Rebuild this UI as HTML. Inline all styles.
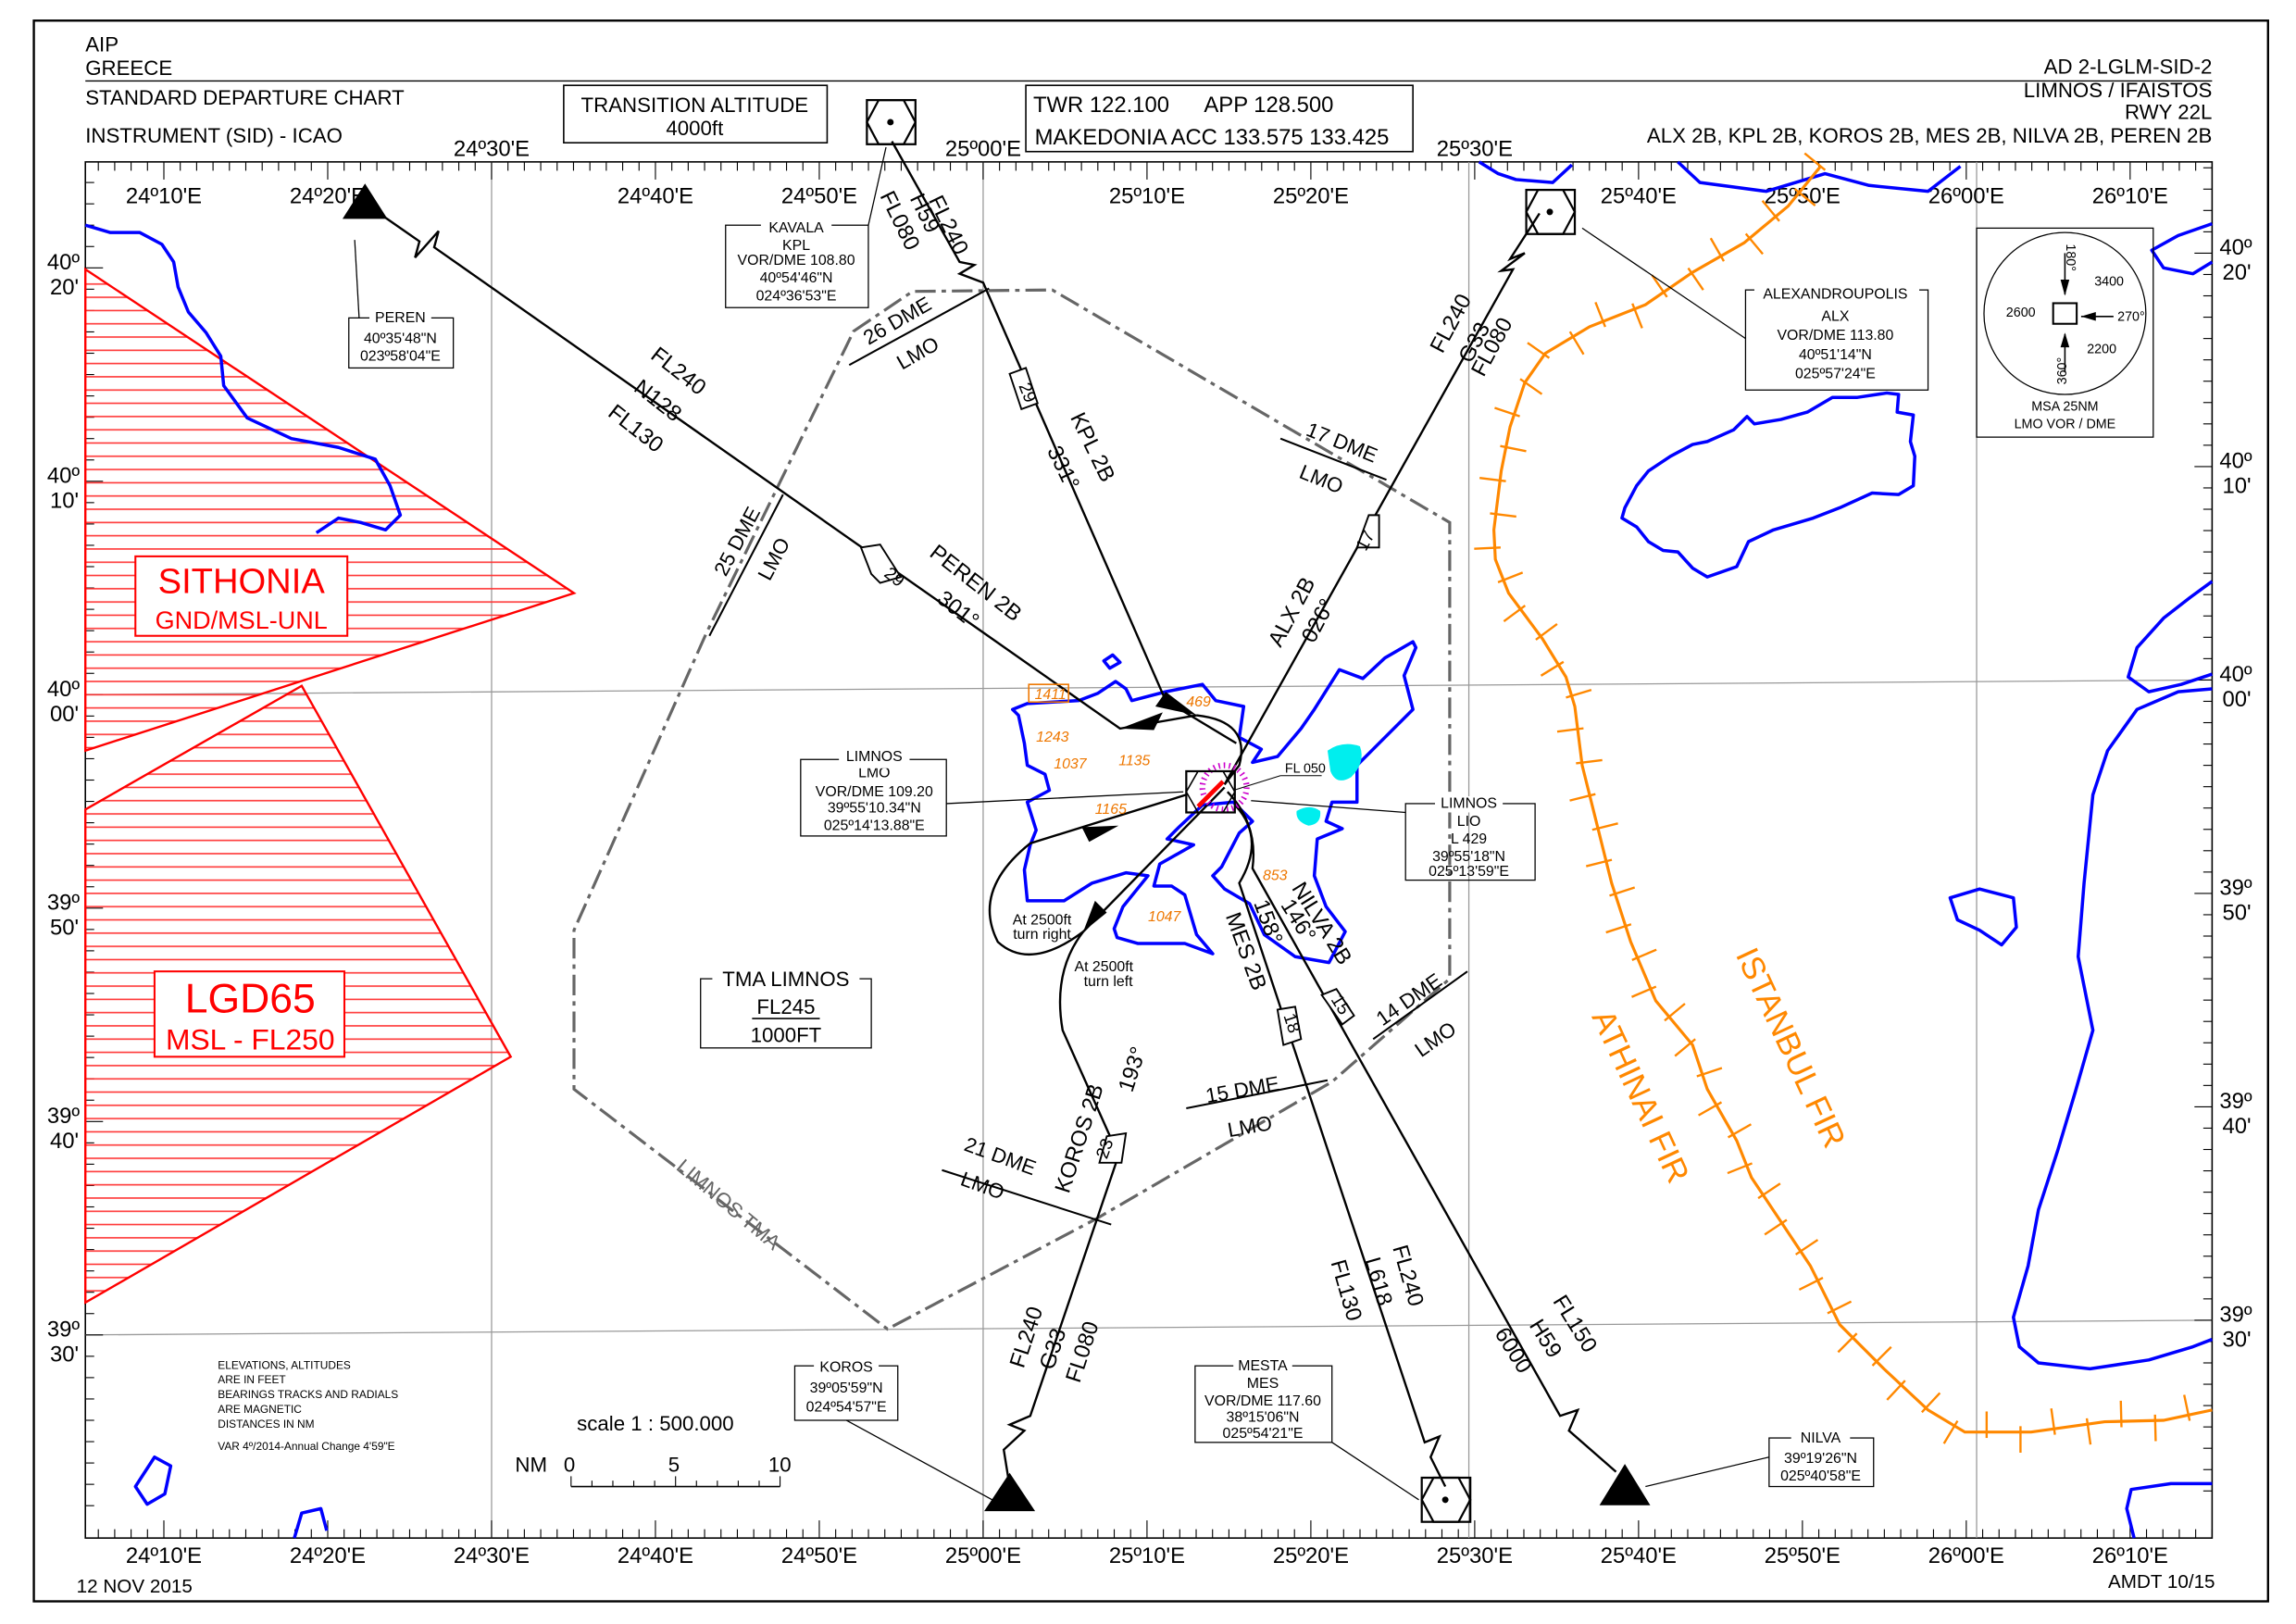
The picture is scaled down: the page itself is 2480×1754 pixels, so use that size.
<!DOCTYPE html>
<html><head><meta charset="utf-8">
<style>
html,body{margin:0;padding:0;background:#fff;}
svg{display:block;}
text{font-family:"Liberation Sans",sans-serif;fill:#000;}
</style></head>
<body>
<svg id="map" width="2480" height="1754" viewBox="0 0 1560 1103.4" preserveAspectRatio="none" xmlns="http://www.w3.org/2000/svg">
<defs>
<pattern id="hatch" patternUnits="userSpaceOnUse" width="10" height="9"><line x1="0" y1="4" x2="10" y2="4" stroke="#f33" stroke-width="1"/></pattern>
</defs>
<rect x="23" y="14" width="1518" height="1074" fill="none" stroke="#000" stroke-width="1.5"/>

<!-- header -->
<g font-size="14">
<text x="58" y="35">AIP</text>
<text x="58" y="51">GREECE</text>
<line x1="58" y1="55" x2="1503" y2="55" stroke="#000" stroke-width="0.8"/>
<text x="58" y="71">STANDARD DEPARTURE CHART</text>
<text x="58" y="97">INSTRUMENT (SID) - ICAO</text>
<text x="1503" y="50" text-anchor="end">AD 2-LGLM-SID-2</text>
<text x="1503" y="66" text-anchor="end">LIMNOS / IFAISTOS</text>
<text x="1503" y="81" text-anchor="end">RWY 22L</text>
<text x="1503" y="97" text-anchor="end">ALX 2B, KPL 2B, KOROS 2B, MES 2B, NILVA 2B, PEREN 2B</text>
</g>
<g>
<rect x="383" y="58" width="179" height="39" fill="none" stroke="#000"/>
<text x="472" y="76" font-size="14" text-anchor="middle">TRANSITION ALTITUDE</text>
<text x="472" y="92" font-size="14" text-anchor="middle">4000ft</text>
</g>
<g>
<rect x="697" y="58" width="263" height="45" fill="none" stroke="#000"/>
<text x="702" y="76" font-size="15">TWR 122.100</text>
<text x="818" y="76" font-size="15">APP 128.500</text>
<text x="703" y="98" font-size="15">MAKEDONIA ACC  133.575 133.425</text>
</g>

<!-- map frame -->
<rect x="58" y="110" width="1445" height="935" fill="none" stroke="#000" stroke-width="1"/>
<g id="grid" stroke="#999" stroke-width="0.8">
<line x1="334" y1="110" x2="334" y2="1045"/><line x1="668" y1="110" x2="668" y2="1045"/>
<line x1="998" y1="110" x2="998" y2="1045"/><line x1="1343" y1="110" x2="1343" y2="1045"/>
<line x1="58" y1="472" x2="1503" y2="462"/><line x1="58" y1="907" x2="1503" y2="897"/>
</g>
<g id="ticks" stroke="#000" stroke-width="0.7"></g>
<g id="lonlabels" font-size="15"></g>
<g id="latlabels" font-size="15"></g>

<!-- restricted areas -->
<g>
<polygon points="58,183 390,403 58,510" fill="url(#hatch)" stroke="#f00" stroke-width="1.5"/>
<rect x="92" y="378" width="144" height="54" fill="#fff" stroke="#f00" stroke-width="1.3"/>
<text x="164" y="403" font-size="24" text-anchor="middle" style="fill:#f00">SITHONIA</text>
<text x="164" y="427" font-size="17" text-anchor="middle" style="fill:#f00">GND/MSL-UNL</text>
</g>
<g>
<polygon points="58,550 205,466 347,718 58,885" fill="url(#hatch)" stroke="#f00" stroke-width="1.5"/>
<rect x="105" y="660" width="129" height="58" fill="#fff" stroke="#f00" stroke-width="1.3"/>
<text x="170" y="688" font-size="28" text-anchor="middle" style="fill:#f00">LGD65</text>
<text x="170" y="713" font-size="20" text-anchor="middle" style="fill:#f00">MSL - FL250</text>
</g>

<!-- coastlines -->
<g fill="none" stroke="#00f" stroke-width="2.2" stroke-linejoin="round">
<polyline points="58,153 75,158 95,158 110,166 118,178 121,195 128,212 140,226 150,242 152,262 168,284 198,298 230,304 255,312 265,330 272,350 262,360 245,355 230,352 215,362"/>
<polyline points="1005,110 1018,118 1030,122 1055,124 1068,112"/>
<polyline points="1140,110 1155,124 1200,130 1240,118 1270,126 1310,130 1332,113"/>
<polyline points="1503,152 1480,160 1462,170 1470,182 1490,186 1503,178"/>
<polygon points="1104,345 1112,330 1120,320 1135,310 1150,302 1160,300 1178,292 1187,283 1192,288 1210,285 1228,280 1245,270 1262,270 1282,267 1290,268 1289,280 1300,282 1298,300 1301,310 1300,330 1290,336 1272,335 1250,345 1232,352 1205,360 1188,368 1180,385 1160,392 1150,386 1140,375 1130,374 1120,368 1112,358 1102,352"/>
<polyline points="1503,395 1488,406 1470,420 1452,440 1446,460 1460,470 1482,465 1503,458"/>
<polyline points="1503,468 1480,470 1452,482 1432,510 1422,540 1416,600 1412,650 1422,700 1410,742 1398,782 1385,822 1378,860 1368,895 1372,915 1385,926 1420,930 1460,924 1490,915 1503,910"/>
<polygon points="1325,610 1345,604 1368,610 1370,630 1360,642 1345,632 1330,625"/>
<polyline points="1503,1008 1475,1008 1448,1012 1445,1025 1450,1045"/>
<polygon points="92,1010 105,990 116,996 112,1015 100,1022"/>
<polyline points="200,1045 205,1028 218,1025 222,1040"/>
<polygon points="688,482 698,478 733,476 746,471 758,463 765,468 769,476 792,470 817,465 826,476 845,480 842,501 857,509 851,518 868,514 884,495 893,482 910,455 926,461 941,447 960,436 962,440 954,459 960,482 935,507 922,520 922,545 905,545 901,558 912,563 895,570 893,595 901,616 914,633 903,654 880,650 859,635 849,614 832,604 824,595 830,589 842,566 851,558 838,545 817,547 801,562 793,570 811,574 788,587 784,602 796,602 805,608 813,635 824,648 805,641 773,641 759,637 757,631 763,616 780,595 765,593 742,600 723,612 698,612 696,591 700,574 704,564 698,545 713,537 710,526 698,520 696,505 692,486"/>
<polygon points="750,449 756,445 761,450 754,454"/>
</g>
<g fill="#0ee" stroke="none">
<path d="M902,510 Q912,503 924,507 Q928,518 918,528 Q908,534 904,524 Z"/>
<path d="M881,551 Q890,546 897,551 Q898,560 889,561 Q880,558 881,551 Z"/>
</g>

<!-- FIR boundary -->
<g id="fir"></g>
<text x="1210" y="715" font-size="22" transform="rotate(65 1210 715)" text-anchor="middle" style="fill:#f80">ISTANBUL FIR</text>
<text x="1108" y="748" font-size="22" transform="rotate(65 1108 748)" text-anchor="middle" style="fill:#f80">ATHINAI FIR</text>

<!-- TMA -->
<polygon points="580,225 620,198 715,197 985,355 985,665 905,735 745,828 603,903 390,740 390,632 480,430" fill="none" stroke="#666" stroke-width="2" stroke-dasharray="14,4,3,4"/>
<text x="492" y="822" font-size="14" transform="rotate(40 492 822)" text-anchor="middle" style="fill:#666">LIMNOS TMA</text>

<!-- DME arcs -->
<g stroke="#000" stroke-width="1.3" font-size="14">
<line x1="577" y1="248" x2="672" y2="196"/>
<text x="612" y="222" transform="rotate(-30 612 222)" stroke="none" text-anchor="middle">26 DME</text>
<text x="626" y="244" transform="rotate(-30 626 244)" stroke="none" text-anchor="middle">LMO</text>
<line x1="870" y1="298" x2="942" y2="326"/>
<text x="910" y="305" transform="rotate(22 910 305)" stroke="none" text-anchor="middle">17 DME</text>
<text x="896" y="330" transform="rotate(22 896 330)" stroke="none" text-anchor="middle">LMO</text>
<line x1="482" y1="432" x2="532" y2="336"/>
<text x="505" y="370" transform="rotate(-62 505 370)" stroke="none" text-anchor="middle">25 DME</text>
<text x="530" y="382" transform="rotate(-62 530 382)" stroke="none" text-anchor="middle">LMO</text>
<line x1="933" y1="706" x2="997" y2="660"/>
<text x="960" y="683" transform="rotate(-35 960 683)" stroke="none" text-anchor="middle">14 DME</text>
<text x="978" y="710" transform="rotate(-35 978 710)" stroke="none" text-anchor="middle">LMO</text>
<line x1="806" y1="753" x2="902" y2="734"/>
<text x="845" y="745" transform="rotate(-10 845 745)" stroke="none" text-anchor="middle">15 DME</text>
<text x="850" y="770" transform="rotate(-10 850 770)" stroke="none" text-anchor="middle">LMO</text>
<line x1="640" y1="795" x2="755" y2="832"/>
<text x="678" y="790" transform="rotate(20 678 790)" stroke="none" text-anchor="middle">21 DME</text>
<text x="666" y="810" transform="rotate(20 666 810)" stroke="none" text-anchor="middle">LMO</text>
</g>

<!-- routes -->
<g fill="none" stroke="#000" stroke-width="1.5">
<polyline points="262,148 285,164 282,175 298,157 295,168 761,495 813,486"/>
<polyline points="606,96 652,178 662,180 652,186 668,192 792,476 840,505"/>
<path d="M813,486 Q850,490 842,520 L832,533"/>
<polyline points="832,533 1028,183 1020,184 1036,172 1026,176 1046,145"/>
<polyline points="832,535 736,633"/>
<path d="M736,633 Q715,660 722,700 L760,785 L700,962 L686,968 L696,972 L682,985 L686,1010"/>
<path d="M736,633 Q700,660 678,640 Q660,605 700,573 L806,540"/>
<path d="M840,548 Q860,570 842,600 L968,980 L978,976 L972,990 L982,1010"/>
<path d="M834,538 Q855,560 851,590 L1060,962 L1072,958 L1066,972 L1098,1000"/>
</g>
<g fill="#000">
<polygon points="761,495 790,484 784,496"/>
<polygon points="813,486 785,480 792,470"/>
<polygon points="760,561 735,562 740,572"/>
<polygon points="736,633 744,612 752,620"/>
</g>
<g fill="#fff" stroke="#000" stroke-width="1.2" font-size="12">
<polygon points="585,372 598,370 612,392 598,396 592,390"/>
<text x="600" y="391" stroke="none" transform="rotate(38 600 391)">29</text>
<polygon points="686,254 697,250 705,274 694,278"/>
<text x="692" y="262" stroke="none" transform="rotate(68 692 262)">29</text>
<polygon points="922,372 930,350 937,350 937,372"/>
<text x="928" y="375" stroke="none" transform="rotate(-62 928 375)">17</text>
<polygon points="747,790 752,772 765,770 762,790"/>
<text x="752" y="788" stroke="none" transform="rotate(-70 752 788)">23</text>
<polygon points="868,686 880,684 884,706 872,710"/>
<text x="872" y="690" stroke="none" transform="rotate(72 872 690)">18</text>
<polygon points="898,676 908,672 920,690 912,696"/>
<text x="904" y="679" stroke="none" transform="rotate(58 904 679)">15</text>
</g>

<!-- route labels -->
<g font-size="15">
<text x="458" y="256" transform="rotate(38 458 256)" text-anchor="middle">FL240</text>
<text x="444" y="276" transform="rotate(38 444 276)" text-anchor="middle">N128</text>
<text x="429" y="295" transform="rotate(38 429 295)" text-anchor="middle">FL130</text>
<text x="660" y="400" transform="rotate(38 660 400)" text-anchor="middle">PEREN 2B</text>
<text x="648" y="418" transform="rotate(38 648 418)" text-anchor="middle">301°</text>
<text x="640" y="155" transform="rotate(64 640 155)" text-anchor="middle">FL240</text>
<text x="624" y="147" transform="rotate(64 624 147)" text-anchor="middle">H59</text>
<text x="607" y="152" transform="rotate(64 607 152)" text-anchor="middle">FL080</text>
<text x="738" y="306" transform="rotate(64 738 306)" text-anchor="middle">KPL 2B</text>
<text x="718" y="320" transform="rotate(64 718 320)" text-anchor="middle">331°</text>
<text x="990" y="222" transform="rotate(-62 990 222)" text-anchor="middle">FL240</text>
<text x="1006" y="235" transform="rotate(-62 1006 235)" text-anchor="middle">G33</text>
<text x="1018" y="238" transform="rotate(-62 1018 238)" text-anchor="middle">FL080</text>
<text x="882" y="418" transform="rotate(-62 882 418)" text-anchor="middle">ALX 2B</text>
<text x="900" y="424" transform="rotate(-62 900 424)" text-anchor="middle">026°</text>
<text x="702" y="910" transform="rotate(-72 702 910)" text-anchor="middle">FL240</text>
<text x="720" y="918" transform="rotate(-72 720 918)" text-anchor="middle">G33</text>
<text x="740" y="920" transform="rotate(-72 740 920)" text-anchor="middle">FL080</text>
<text x="738" y="775" transform="rotate(-72 738 775)" text-anchor="middle">KOROS 2B</text>
<text x="774" y="728" transform="rotate(-72 774 728)" text-anchor="middle">193°</text>
<text x="952" y="868" transform="rotate(74 952 868)" text-anchor="middle">FL240</text>
<text x="932" y="872" transform="rotate(74 932 872)" text-anchor="middle">L618</text>
<text x="910" y="878" transform="rotate(74 910 878)" text-anchor="middle">FL130</text>
<text x="842" y="648" transform="rotate(70 842 648)" text-anchor="middle">MES 2B</text>
<text x="857" y="628" transform="rotate(70 857 628)" text-anchor="middle">158°</text>
<text x="1066" y="902" transform="rotate(58 1066 902)" text-anchor="middle">FL150</text>
<text x="1046" y="912" transform="rotate(58 1046 912)" text-anchor="middle">H59</text>
<text x="1024" y="920" transform="rotate(58 1024 920)" text-anchor="middle">6000</text>
<text x="894" y="630" transform="rotate(58 894 630)" text-anchor="middle">NILVA 2B</text>
<text x="878" y="628" transform="rotate(58 878 628)" text-anchor="middle">146°</text>
<text x="708" y="628" font-size="10" text-anchor="middle">At 2500ft</text>
<text x="708" y="638" font-size="10" text-anchor="middle">turn right</text>
<text x="750" y="660" font-size="10" text-anchor="middle">At 2500ft</text>
<text x="753" y="670" font-size="10" text-anchor="middle">turn left</text>
<text x="873" y="525" font-size="9">FL 050</text>
<line x1="870" y1="527" x2="898" y2="527" stroke="#000" stroke-width="0.6"/>
<line x1="870" y1="527" x2="838" y2="537" stroke="#000" stroke-width="0.6"/>
</g>

<!-- elevations -->
<g font-size="10" font-style="italic" style="fill:#e70">
<rect x="699" y="465" width="27" height="12" fill="none" stroke="#e70" stroke-width="1"/>
<text x="703" y="475" style="fill:#e70">1411</text>
<text x="704" y="504" style="fill:#e70">1243</text>
<text x="716" y="522" style="fill:#e70">1037</text>
<text x="760" y="520" style="fill:#e70">1135</text>
<text x="806" y="480" style="fill:#e70">469</text>
<text x="744" y="553" style="fill:#e70">1165</text>
<text x="858" y="598" style="fill:#e70">853</text>
<text x="780" y="626" style="fill:#e70">1047</text>
</g>

<!-- VOR at aerodrome -->
<g>
<circle cx="832" cy="535" r="15" fill="none" stroke="#c0c" stroke-width="4" stroke-dasharray="1,2.5"/>
<rect x="806" y="524" width="33" height="28" fill="none" stroke="#000" stroke-width="1.4"/>
<polygon points="814,524 831,524 839,538 831,552 814,552 806,538" fill="none" stroke="#000" stroke-width="1"/>
<line x1="814" y1="548" x2="831" y2="531" stroke="#f00" stroke-width="3"/>
</g>

<!-- navaids -->
<g fill="none" stroke="#000" stroke-width="1.4">
<rect x="589" y="68" width="33" height="30"/><polygon points="597,68 614,68 622,83 614,98 597,98 589,83"/><circle cx="605" cy="83" r="1.5" fill="#000"/>
<rect x="1037" y="129" width="33" height="30"/><polygon points="1045,129 1062,129 1070,144 1062,159 1045,159 1037,144"/><circle cx="1053" cy="144" r="1.5" fill="#000"/>
<rect x="966" y="1004" width="33" height="30"/><polygon points="974,1004 991,1004 999,1019 991,1034 974,1034 966,1019"/><circle cx="982" cy="1019" r="1.5" fill="#000"/>
<polygon points="234,148 262,148 248,126" fill="#000"/>
<polygon points="670,1026 702,1026 686,1002" fill="#000"/>
<polygon points="1088,1022 1120,1022 1104,996" fill="#000"/>
</g>

<!-- info boxes -->
<g font-size="10" text-anchor="middle" fill="none" stroke="#000" stroke-width="0.8">
<rect x="237" y="216" width="71" height="34"/>
<text x="272" y="233" stroke="none">40º35'48"N</text><text x="272" y="245" stroke="none">023º58'04"E</text>
<line x1="244" y1="216" x2="241" y2="163"/>
<rect x="493" y="153" width="97" height="56"/>
<text x="541" y="170" stroke="none">KPL</text><text x="541" y="180" stroke="none">VOR/DME 108.80</text><text x="541" y="192" stroke="none">40º54'46"N</text><text x="541" y="204" stroke="none">024º36'53"E</text>
<line x1="590" y1="153" x2="602" y2="100"/>
<rect x="1186" y="197" width="124" height="68"/>
<text x="1247" y="218" stroke="none">ALX</text><text x="1247" y="231" stroke="none">VOR/DME 113.80</text><text x="1247" y="244" stroke="none">40º51'14"N</text><text x="1247" y="257" stroke="none">025º57'24"E</text>
<line x1="1186" y1="230" x2="1075" y2="155"/>
<rect x="544" y="516" width="99" height="52"/>
<text x="594" y="528" stroke="none">LMO</text><text x="594" y="541" stroke="none">VOR/DME 109.20</text><text x="594" y="552" stroke="none">39º55'10.34"N</text><text x="594" y="564" stroke="none">025º14'13.88"E</text>
<line x1="643" y1="546" x2="804" y2="538"/>
<rect x="955" y="546" width="88" height="52"/>
<text x="998" y="561" stroke="none">LIO</text><text x="998" y="573" stroke="none">L 429</text><text x="998" y="585" stroke="none">39º55'18"N</text><text x="998" y="595" stroke="none">025º13'59"E</text>
<line x1="955" y1="552" x2="850" y2="544"/>
<rect x="540" y="928" width="70" height="37"/>
<text x="575" y="946" stroke="none">39º05'59"N</text><text x="575" y="959" stroke="none">024º54'57"E</text>
<line x1="575" y1="965" x2="676" y2="1020"/>
<rect x="812" y="928" width="93" height="52"/>
<text x="858" y="943" stroke="none">MES</text><text x="858" y="955" stroke="none">VOR/DME 117.60</text><text x="858" y="966" stroke="none">38º15'06"N</text><text x="858" y="977" stroke="none">025º54'21"E</text>
<line x1="905" y1="980" x2="964" y2="1019"/>
<rect x="1202" y="977" width="71" height="33"/>
<text x="1237" y="994" stroke="none">39º19'26"N</text><text x="1237" y="1006" stroke="none">025º40'58"E</text>
<line x1="1202" y1="990" x2="1118" y2="1010"/>
</g>
<g fill="#fff">
<rect x="251" y="210" width="42" height="11"/><rect x="517" y="148" width="48" height="11"/><rect x="1192" y="192" width="112" height="11"/>
<rect x="570" y="511" width="48" height="11"/><rect x="975" y="541" width="46" height="11"/><rect x="553" y="923" width="44" height="11"/><rect x="838" y="922" width="40" height="11"/><rect x="1217" y="972" width="40" height="11"/>
</g>
<g font-size="10" text-anchor="middle">
<text x="272" y="219">PEREN</text><text x="541" y="158">KAVALA</text><text x="1247" y="203">ALEXANDROUPOLIS</text>
<text x="594" y="517">LIMNOS</text><text x="998" y="549">LIMNOS</text><text x="575" y="932">KOROS</text><text x="858" y="931">MESTA</text><text x="1237" y="980">NILVA</text>
</g>

<g text-anchor="middle" font-size="14">
<rect x="476" y="665" width="116" height="47" fill="none" stroke="#000" stroke-width="0.8"/>
<rect x="484" y="658" width="100" height="12" fill="#fff"/>
<text x="534" y="670">TMA LIMNOS</text>
<text x="534" y="689">FL245</text><line x1="511" y1="692" x2="557" y2="692" stroke="#000"/>
<text x="534" y="708">1000FT</text>
</g>

<!-- MSA -->
<g text-anchor="middle">
<rect x="1343" y="155" width="120" height="142" fill="none" stroke="#000" stroke-width="0.8"/>
<circle cx="1403" cy="213" r="55" fill="none" stroke="#000" stroke-width="0.8"/>
<rect x="1395" y="206" width="16" height="14" fill="none" stroke="#000" stroke-width="1.3"/>
<line x1="1403" y1="172" x2="1403" y2="200" stroke="#000"/><polygon points="1400,190 1406,190 1403,201"/>
<line x1="1403" y1="253" x2="1403" y2="227" stroke="#000"/><polygon points="1400,236 1406,236 1403,226"/>
<line x1="1436" y1="215" x2="1414" y2="215" stroke="#000"/><polygon points="1424,212 1424,218 1414,215"/>
<text x="1433" y="194" font-size="9">3400</text><text x="1373" y="215" font-size="9">2600</text><text x="1428" y="240" font-size="9">2200</text>
<text x="1448" y="218" font-size="9">270°</text>
<text x="1404" y="175" font-size="9" transform="rotate(90 1404 175)">180°</text>
<text x="1404" y="252" font-size="9" transform="rotate(-90 1404 252)">360°</text>
<text x="1403" y="279" font-size="9">MSA 25NM</text><text x="1403" y="291" font-size="9">LMO VOR / DME</text>
</g>

<!-- notes and scale -->
<g font-size="7.5">
<text x="148" y="930">ELEVATIONS, ALTITUDES</text><text x="148" y="940">ARE IN FEET</text>
<text x="148" y="950">BEARINGS TRACKS AND RADIALS</text><text x="148" y="960">ARE MAGNETIC</text>
<text x="148" y="970">DISTANCES IN NM</text><text x="148" y="985">VAR 4º/2014-Annual Change 4'59"E</text>
</g>
<g font-size="14">
<text x="392" y="972">scale 1 : 500.000</text>
<text x="350" y="1000">NM</text><text x="383" y="1000">0</text><text x="454" y="1000">5</text><text x="522" y="1000">10</text>
<line x1="388" y1="1010" x2="530" y2="1010" stroke="#000"/>
<g id="scaleticks" stroke="#000" stroke-width="0.7"></g>
</g>
<text x="52" y="1082" font-size="13">12 NOV 2015</text>
<text x="1505" y="1079" font-size="13" text-anchor="end">AMDT 10/15</text>

<script>
// graticule label data
const lonTopLabels = ["24º10'E","24º20'E","24º40'E","24º50'E","25º10'E","25º20'E","25º40'E","25º50'E","26º10'E"];
const lonTopMinutes = [10,20,40,50,70,80,100,110,130];
const lonTopMajor = ["24º30'E","25º00'E","25º30'E"];
const lonTopMajorMinutes = [30,60,90];
const lonBottomLabels = ["24º10'E","24º20'E","24º30'E","24º40'E","24º50'E","25º00'E","25º10'E","25º20'E","25º30'E","25º40'E","25º50'E","26º00'E","26º10'E"];
const lonBottomMinutes = [10,20,30,40,50,60,70,80,90,100,110,120,130];
const latMinutes = [20,10,0,-10,-20,-30];
const latDeg = ["40º","40º","40º","39º","39º","39º"];
const latMin = ["20'","10'","00'","50'","40'","30'"];

const NS = "http://www.w3.org/2000/svg";
function xLon(m){ return 334 + (m - 30) * 11.133; }
function yLat(m, side){ return (side === 'L' ? 472 : 462) - m * 14.5; }
function mk(tag, attrs, parent){ const e = document.createElementNS(NS, tag); for (const k in attrs) e.setAttribute(k, attrs[k]); parent.appendChild(e); return e; }

const ticks = document.getElementById('ticks');
for (let m = 6; m <= 135; m++) {
  const x = xLon(m); const major = m % 10 === 0; const len = major ? 12 : 6;
  const t1 = mk('line', {x1:x, y1:110, x2:x, y2:110+len}, ticks);
  
  
  const t2 = mk('line', {x1:x, y1:1045, x2:x, y2:1045-len}, ticks);
  
  
}
for (let m = -38; m <= 25; m++) {
  const major = m % 10 === 0; const len = major ? 12 : 6;
  const yl = yLat(m, 'L'), yr = yLat(m, 'R');
  if (yl > 112 && yl < 1043) { const t = mk('line', {x1:58, y1:yl, x2:58+len, y2:yl}, ticks);
    
     }
  if (yr > 112 && yr < 1043) { const t = mk('line', {x1:1503, y1:yr, x2:1503-len, y2:yr}, ticks);
    
     }
}
const ll = document.getElementById('lonlabels');
lonTopLabels.forEach((s, i) => { const t = mk('text', {x:xLon(lonTopMinutes[i]), y:138, 'text-anchor':'middle'}, ll); t.textContent = s;
  
   });
lonTopMajor.forEach((s, i) => { const t = mk('text', {x:xLon(lonTopMajorMinutes[i]), y:106, 'text-anchor':'middle'}, ll); t.textContent = s;
  
   });
{ const t = mk('text', {x:xLon(120), y:138, 'text-anchor':'middle'}, ll); t.textContent = "26º00'E";
  
   }
lonBottomLabels.forEach((s, i) => { const t = mk('text', {x:xLon(lonBottomMinutes[i]), y:1062, 'text-anchor':'middle'}, ll); t.textContent = s;
  
   });
const la = document.getElementById('latlabels');
latMinutes.forEach((m, i) => {
  const yl = yLat(m, 'L'), yr = yLat(m, 'R');
  const a = mk('text', {x:32, y:yl+1}, la); a.textContent = latDeg[i];
  
  
  const b = mk('text', {x:34, y:yl+18}, la); b.textContent = latMin[i];
  
  
  const c = mk('text', {x:1508, y:yr+1}, la); c.textContent = latDeg[i];
  
  
  const d = mk('text', {x:1510, y:yr+18}, la); d.textContent = latMin[i];
  
  
});
// scale ticks
const st = document.getElementById('scaleticks');
for (let i = 0; i <= 10; i++) { const x = 388 + i * 14.2; const l = mk('line', {x1:x, y1:1010, x2:x, y2:(i%5===0)?1003:1006}, st);
  
   }

// FIR boundary
const firPts = [[1237,113],[1215,140],[1185,165],[1150,185],[1118,207],[1080,222],[1050,240],[1036,260],[1026,290],[1020,320],[1015,360],[1016,380],[1025,403],[1048,434],[1064,460],[1070,480],[1075,520],[1085,560],[1095,600],[1108,640],[1125,680],[1150,710],[1160,740],[1180,775],[1190,800],[1210,830],[1230,860],[1250,900],[1280,930],[1310,958],[1335,973],[1380,973],[1430,966],[1470,965],[1503,958]];
const fir = document.getElementById('fir');
const pl = mk('polyline', {points: firPts.map(p => p.join(',')).join(' '), fill:'none', stroke:'#f80', 'stroke-width':2}, fir);


let acc = 0, k = 0;
const sp = 23;
for (let i = 0; i < firPts.length - 1; i++) {
  const [x1,y1] = firPts[i], [x2,y2] = firPts[i+1];
  const L = Math.hypot(x2-x1, y2-y1); const ux = (x2-x1)/L, uy = (y2-y1)/L;
  let d = (sp - acc % sp) % sp;
  while (d < L) { const px = x1 + ux*d, py = y1 + uy*d;
    const s = (k % 2 === 0) ? 1 : -1; k++;
    const tk = mk('line', {x1:px + uy*s*4, y1:py - ux*s*4, x2:px - uy*s*14, y2:py + ux*s*14, stroke:'#f80', 'stroke-width':1.5}, fir);
    
    
    d += sp; }
  acc += L;
}
</script>
</svg>
</body></html>
